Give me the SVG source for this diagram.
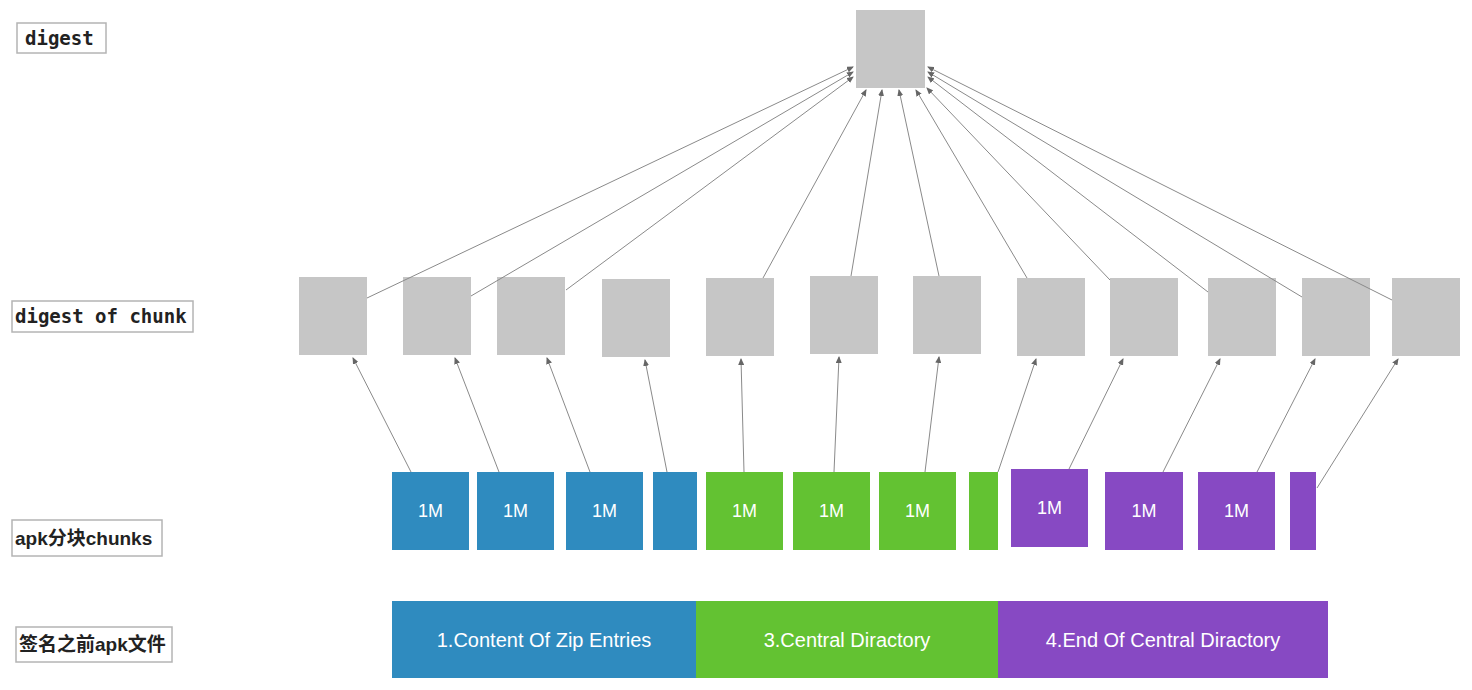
<svg xmlns="http://www.w3.org/2000/svg" width="1472" height="690" viewBox="0 0 1472 690">
<style>
.lbl{fill:#fff;stroke:#b4b4b4;stroke-width:1.5}
.mono{font-family:"DejaVu Sans Mono","Liberation Mono",monospace;font-weight:bold;font-size:19px;fill:#222}
.cjk{font-family:"Liberation Sans","Noto Sans CJK SC",sans-serif;font-weight:bold;font-size:19px;fill:#222}
.dg{fill:#c6c6c6}
.blue{fill:#2f8bbf}
.green{fill:#63c232}
.purple{fill:#8749c3}
.ct{font-family:"Liberation Sans",Arial,sans-serif;font-size:18px;fill:#fff;text-anchor:middle}
.bt{font-family:"Liberation Sans",Arial,sans-serif;font-size:20px;fill:#fff;text-anchor:middle}
.cn{stroke:#8a8a8a;stroke-width:1;fill:none;marker-end:url(#ah)}
</style>
<defs>
<marker id="ah" markerWidth="7" markerHeight="6" refX="6" refY="3" orient="auto" markerUnits="userSpaceOnUse">
<path d="M0,0 L7,3 L0,6 z" fill="#666"/>
</marker>
</defs>
<rect width="1472" height="690" fill="#fff"/>

<g id="label-digest"><rect class="lbl" x="17" y="23" width="89" height="30"/><text class="mono" x="25" y="45">digest</text></g>
<g id="label-digest-of-chunk"><rect class="lbl" x="12" y="301" width="181" height="31"/><text class="mono" x="15" y="323">digest of chunk</text></g>
<g id="label-chunks"><rect class="lbl" x="12" y="520" width="150" height="36"/><text class="cjk" x="15" y="545">apk分块chunks</text></g>
<g id="label-apk"><rect class="lbl" x="16" y="627" width="156" height="35"/><text class="cjk" x="19" y="651">签名之前apk文件</text></g>

<g id="top-digest"><rect class="dg" x="856" y="10" width="69" height="78"/></g>

<g id="d1"><rect class="dg" x="299" y="277" width="68" height="78"/></g>
<g id="d2"><rect class="dg" x="403" y="277" width="68" height="78"/></g>
<g id="d3"><rect class="dg" x="497" y="277" width="68" height="78"/></g>
<g id="d4"><rect class="dg" x="602" y="279" width="68" height="78"/></g>
<g id="d5"><rect class="dg" x="706" y="278" width="68" height="78"/></g>
<g id="d6"><rect class="dg" x="810" y="276" width="68" height="78"/></g>
<g id="d7"><rect class="dg" x="913" y="276" width="68" height="78"/></g>
<g id="d8"><rect class="dg" x="1017" y="278" width="68" height="78"/></g>
<g id="d9"><rect class="dg" x="1110" y="278" width="68" height="78"/></g>
<g id="d10"><rect class="dg" x="1208" y="278" width="68" height="78"/></g>
<g id="d11"><rect class="dg" x="1302" y="278" width="68" height="78"/></g>
<g id="d12"><rect class="dg" x="1392" y="278" width="68" height="78"/></g>

<g id="c1"><rect class="blue" x="392" y="472" width="77" height="78"/><text class="ct" x="430.5" y="517">1M</text></g>
<g id="c2"><rect class="blue" x="477" y="472" width="77" height="78"/><text class="ct" x="515.5" y="517">1M</text></g>
<g id="c3"><rect class="blue" x="566" y="472" width="77" height="78"/><text class="ct" x="604.5" y="517">1M</text></g>
<g id="c4"><rect class="blue" x="653" y="472" width="44" height="78"/></g>
<g id="c5"><rect class="green" x="706" y="472" width="77" height="78"/><text class="ct" x="744.5" y="517">1M</text></g>
<g id="c6"><rect class="green" x="793" y="472" width="77" height="78"/><text class="ct" x="831.5" y="517">1M</text></g>
<g id="c7"><rect class="green" x="879" y="472" width="77" height="78"/><text class="ct" x="917.5" y="517">1M</text></g>
<g id="c8"><rect class="green" x="969" y="472" width="29" height="78"/></g>
<g id="c9"><rect class="purple" x="1011" y="469" width="77" height="78"/><text class="ct" x="1049.5" y="514">1M</text></g>
<g id="c10"><rect class="purple" x="1105" y="472" width="78" height="78"/><text class="ct" x="1144" y="517">1M</text></g>
<g id="c11"><rect class="purple" x="1198" y="472" width="77" height="78"/><text class="ct" x="1236.5" y="517">1M</text></g>
<g id="c12"><rect class="purple" x="1290" y="472" width="26" height="78"/></g>

<g id="apk-file">
<rect class="blue" x="392" y="601" width="304" height="77"/>
<rect class="green" x="696" y="601" width="302" height="77"/>
<rect class="purple" x="998" y="601" width="330" height="77"/>
<text class="bt" x="544" y="647">1.Content Of Zip Entries</text>
<text class="bt" x="847" y="647">3.Central Diractory</text>
<text class="bt" x="1163" y="647">4.End Of Central Diractory</text>
</g>

<g id="connectors">
<line class="cn" x1="411" y1="472" x2="353" y2="358"/>
<line class="cn" x1="499" y1="472" x2="455" y2="358"/>
<line class="cn" x1="590" y1="472" x2="547" y2="358"/>
<line class="cn" x1="667" y1="472" x2="645" y2="360"/>
<line class="cn" x1="744" y1="472" x2="741" y2="359"/>
<line class="cn" x1="834" y1="472" x2="839" y2="357"/>
<line class="cn" x1="925" y1="472" x2="939" y2="357"/>
<line class="cn" x1="998" y1="472" x2="1036" y2="359"/>
<line class="cn" x1="1069" y1="469" x2="1123" y2="359"/>
<line class="cn" x1="1163" y1="472" x2="1220" y2="359"/>
<line class="cn" x1="1257" y1="472" x2="1315" y2="359"/>
<line class="cn" x1="1317" y1="488" x2="1398" y2="359"/>

<line class="cn" x1="367" y1="298" x2="853" y2="67"/>
<line class="cn" x1="471" y1="296" x2="853" y2="72"/>
<line class="cn" x1="566" y1="290" x2="853" y2="77"/>
<line class="cn" x1="763" y1="278" x2="866" y2="90"/>
<line class="cn" x1="851" y1="276" x2="882" y2="90"/>
<line class="cn" x1="939" y1="276" x2="899" y2="90"/>
<line class="cn" x1="1027" y1="278" x2="916" y2="90"/>
<line class="cn" x1="1110" y1="280" x2="927" y2="88"/>
<line class="cn" x1="1208" y1="292" x2="928" y2="77"/>
<line class="cn" x1="1302" y1="297" x2="928" y2="72"/>
<line class="cn" x1="1392" y1="300" x2="928" y2="67"/>
</g>
</svg>
